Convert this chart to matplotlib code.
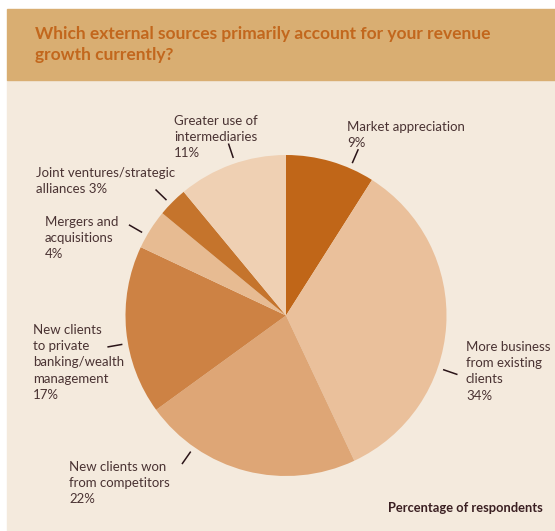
import matplotlib.pyplot as plt
from matplotlib.patches import Rectangle
import numpy as np

# survey shares, clockwise from 12 o'clock
sources = ["Market appreciation", "More business\nfrom existing\nclients",
           "New clients won\nfrom competitors",
           "New clients\nto private\nbanking/wealth\nmanagement",
           "Mergers and\nacquisitions", "Joint ventures/strategic\nalliances",
           "Greater use of\nintermediaries"]
shares = [9, 34, 22, 17, 4, 3, 11]
colors = ["#c06618", "#eac09b", "#dea676", "#cd8244", "#e7bb92", "#c5742c", "#efd0b3"]

# label layout in pixels (x, top y), leader angle in degrees, separator before the %
label_pos = [(347, 121), (466, 341), (69, 461), (33, 324), (45, 216), (36, 167), (174, 115)]
leader_ang = [66.5, -19, 235, 190, 150, 136, 108.5]
pct_sep = ["\n", "\n", "\n", "\n", "\n", " ", "\n"]

W, H = 555, 531
cx, cy, R = 286, H - 315.5, 160.5
txt_col = "#4a3333"

plt.rcParams['font.family'] = ['Lato', 'DejaVu Sans']
fig = plt.figure(figsize=(W / 100, H / 100), dpi=100)
ax = fig.add_axes([0, 0, 1, 1])

# page background: header band + cream body
ax.add_patch(Rectangle((7, 0), W - 7, H - 80, color="#f4eadd", zorder=0))
ax.add_patch(Rectangle((7, H - 80), W - 7, 71, color="#d9ae72", zorder=0))

ax.pie(shares, colors=colors, startangle=90, counterclock=False,
       center=(cx, cy), radius=R, wedgeprops=dict(linewidth=0))

for name, v, (lx, ly), ang, sep in zip(sources, shares, label_pos, leader_ang, pct_sep):
    ax.text(lx, H - ly, f"{name}{sep}{v}%", fontsize=9.5, color=txt_col,
            ha="left", va="top", linespacing=1.42)
    a = np.radians(ang)
    r = np.array([1.035, 1.13]) * R
    ax.plot(cx + r * np.cos(a), cy + r * np.sin(a), color="#2a1418", lw=1.1,
            solid_capstyle="butt")

ax.text(35, H - 26, "Which external sources primarily account for your revenue\ngrowth currently?",
        fontsize=12.5, fontweight="bold", color="#c2671d", ha="left", va="top",
        linespacing=1.35)
ax.text(543, H - 512, "Percentage of respondents", fontsize=9.3, fontweight="bold",
        color="#3a1f22", ha="right", va="baseline")

ax.set_xlim(0, W)
ax.set_ylim(0, H)
ax.set_aspect("auto")
ax.axis("off")
fig.savefig("out.png", dpi=100, facecolor="white")
